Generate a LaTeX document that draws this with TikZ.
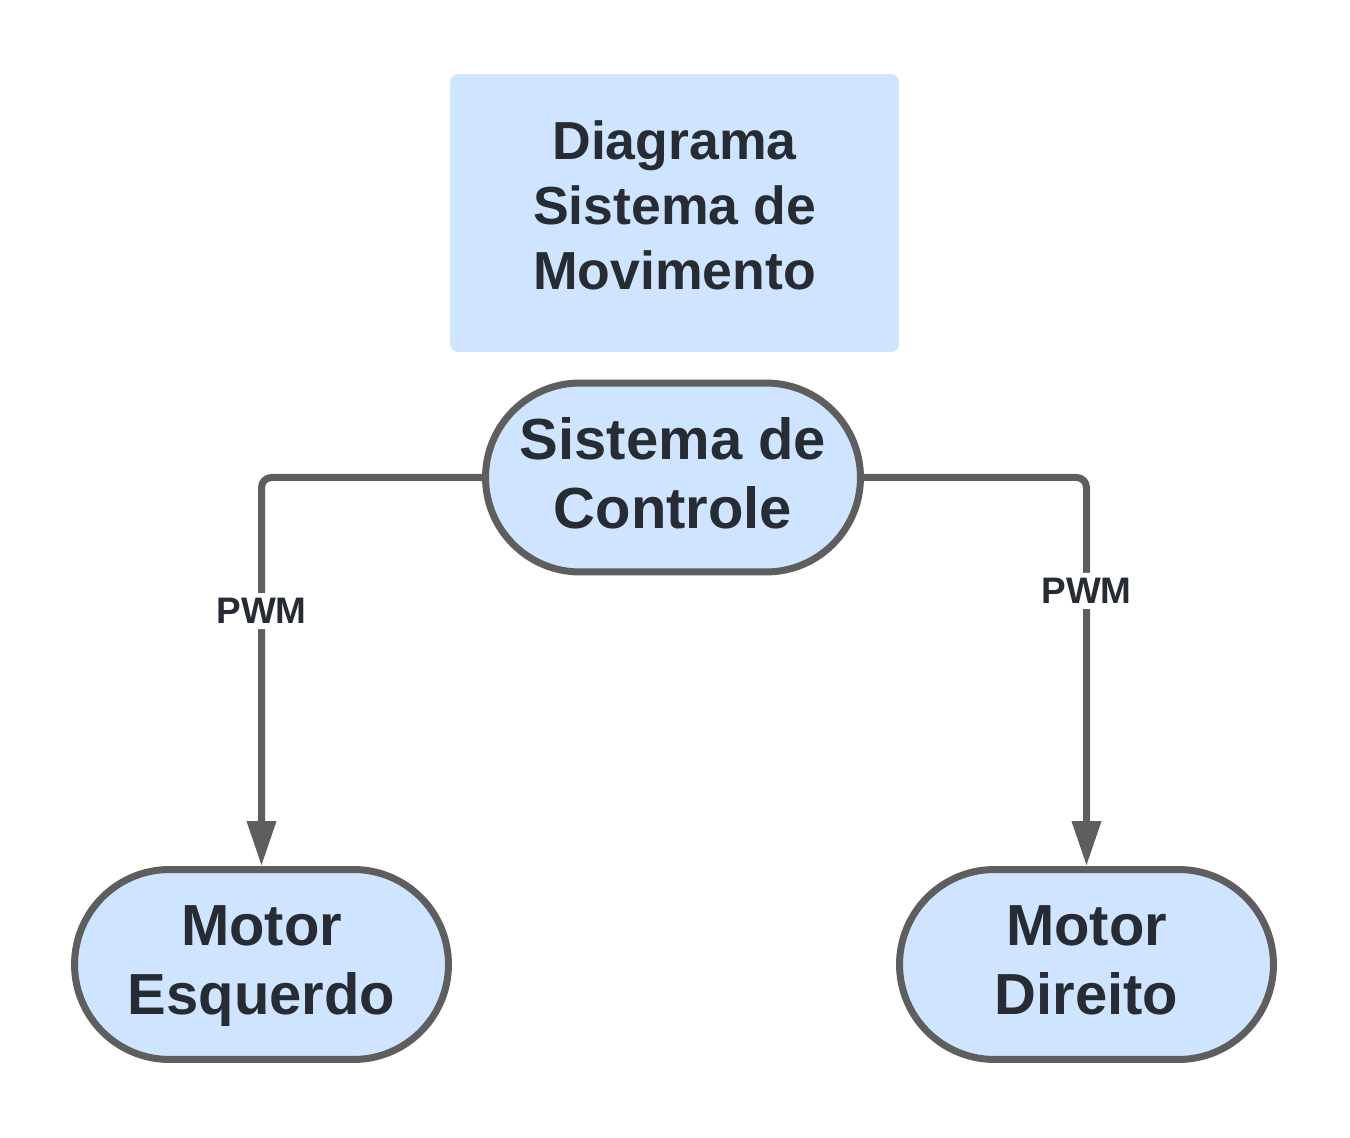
\documentclass[tikz,border=0pt]{standalone}
\usepackage{fontspec}
\setmainfont{Liberation Sans}
\usetikzlibrary{arrows.meta,positioning,shapes.misc}
\definecolor{boxblue}{RGB}{207,228,255}
\definecolor{edgegray}{RGB}{94,94,94}
\definecolor{textdark}{RGB}{39,43,51}

\begin{document}
\begin{tikzpicture}[x=0.02cm,y=-0.02cm,>={Triangle[length=0.9cm,width=0.56cm]}]
    \tikzset{titlebox/.style={fill=boxblue,rounded corners=0.16cm,text=textdark,align=center,text depth=9pt,
        font=\fontsize{30.5}{37}\selectfont\bfseries,minimum width=8.98cm,minimum height=5.56cm}}
    \tikzset{stadium/.style={rounded rectangle,draw=edgegray,line width=0.14cm,fill=boxblue,
        text=textdark,align=center,inner sep=0pt,text depth=0.5em,font=\fontsize{33}{39}\selectfont\bfseries}}
    \tikzset{link/.style={->,draw=edgegray,line width=0.14cm,rounded corners=0.2cm}}
    \tikzset{pwmlabel/.style={fill=white,text=textdark,inner sep=3pt,font=\fontsize{21}{24}\selectfont\bfseries}}

    \useasboundingbox (0,0) rectangle (1350,1138);

    % title block
    \node[titlebox] (title) at (674.5,213) {Diagrama\\Sistema de\\Movimento};

    % controller and the two motors
    \node[stadium,minimum width=7.5cm,minimum height=3.78cm] (ctrl) at (673,477.5) {Sistema de\\Controle};
    \node[stadium,minimum width=7.48cm,minimum height=3.8cm] (mesq) at (261.5,964.5) {Motor\\Esquerdo};
    \node[stadium,minimum width=7.48cm,minimum height=3.8cm] (mdir) at (1086.5,964.5) {Motor\\Direito};

    % PWM lines
    \draw[link] (ctrl.west) -| (mesq.north) node[pwmlabel,pos=0.672] {PWM};
    \draw[link] (ctrl.east) -| (mdir.north) node[pwmlabel,pos=0.646] {PWM};
\end{tikzpicture}
\end{document}
